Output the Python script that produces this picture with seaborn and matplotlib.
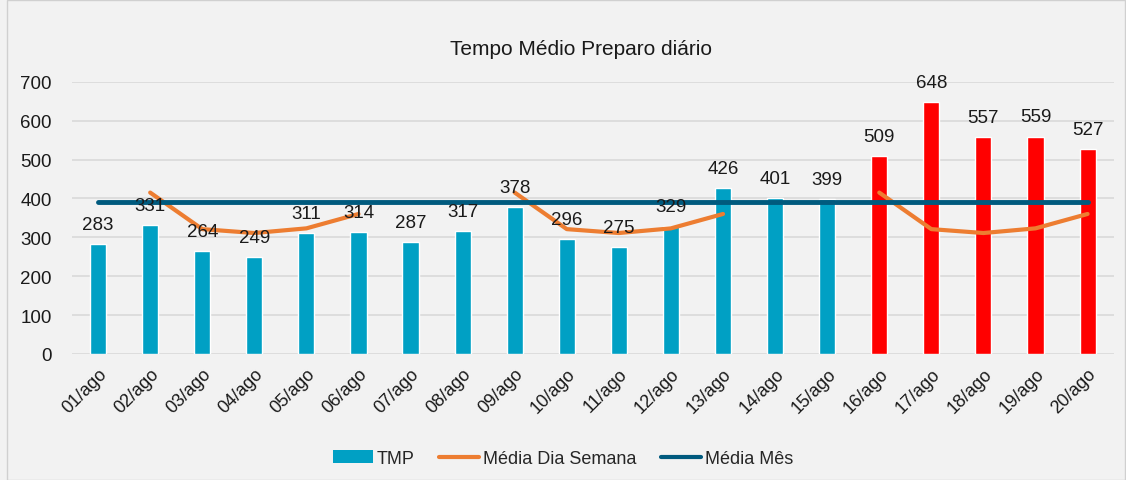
import numpy as np
import pandas as pd
import matplotlib
matplotlib.use("Agg")
import matplotlib.pyplot as plt
import seaborn as sns
from matplotlib.patches import Patch, Rectangle
from matplotlib.lines import Line2D

days = [f"{d:02d}/ago" for d in range(1, 21)]
tmp = [283, 331, 264, 249, 311, 314, 287, 317, 378, 296,
       275, 329, 426, 401, 399, 509, 648, 557, 559, 527]
# weekday average (gaps on weekends)
media_dia_semana = [np.nan, 415, 321, 311, 323, 360, np.nan, np.nan, 415, 321,
                    311, 323, 360, np.nan, np.nan, 415, 321, 311, 323, 360]
media_mes = [392] * 20
highlight = [False] * 15 + [True] * 5

BG = "#F2F2F2"
BLUE = "#00A0C4"
RED = "#FF0000"
ORANGE = "#ED7D31"
NAVY = "#005A7E"
TXT = "#1a1a1a"

sns.set_style("white")
plt.rcParams['font.family'] = ['Liberation Sans', 'DejaVu Sans']

df = pd.DataFrame({"dia": days, "tmp": tmp})
colors = [RED if h else BLUE for h in highlight]

fig = plt.figure(figsize=(11.26, 4.81), dpi=100, facecolor=BG)
ax = fig.add_axes([0.064, 0.262, 0.925, 0.566])
ax.set_facecolor(BG)

sns.barplot(data=df, x="dia", y="tmp", hue="dia", palette=colors,
            legend=False, width=0.31, ax=ax, saturation=1)

x = np.arange(len(days))
ax.plot(x, media_dia_semana, color=ORANGE, lw=3, solid_capstyle="round", zorder=3)
ax.plot(x, media_mes, color=NAVY, lw=3.5, solid_capstyle="round", zorder=4)

for xi, v in zip(x, tmp):
    ax.annotate(str(v), (xi, v), xytext=(0, 8), textcoords="offset points",
                ha="center", va="bottom", fontsize=13.5, color=TXT, zorder=5)

ax.set_ylim(0, 700)
ax.set_xlim(-0.5, len(days) - 0.5)
ax.set_yticks(range(0, 701, 100))
ax.yaxis.grid(True, color="#D9D9D9", lw=1.2)
ax.set_axisbelow(True)
for s in ax.spines.values():
    s.set_visible(False)
ax.tick_params(axis="both", length=0)
ax.tick_params(axis="y", labelsize=13.5, pad=14.5, labelcolor=TXT)
ax.set_xticks(x)
ax.set_xticklabels(days, rotation=45, ha="right", rotation_mode="anchor",
                   fontsize=13, color=TXT)
ax.tick_params(axis="x", pad=8)
ax.set_xlabel("")
ax.set_ylabel("")

fig.text(0.516, 0.897, "Tempo Médio Preparo diário", ha="center", va="center",
         fontsize=15, color=TXT)

handles = [Patch(facecolor=BLUE, edgecolor="none"),
           Line2D([0], [0], color=ORANGE, lw=3, solid_capstyle="round"),
           Line2D([0], [0], color=NAVY, lw=3, solid_capstyle="round")]
labels = ["TMP", "Média Dia Semana", "Média Mês"]
fig.legend(handles, labels, loc="center", bbox_to_anchor=(0.50, 0.045),
           ncol=3, frameon=False, prop={"size": 13},
           handlelength=2.2, handletextpad=0.2, columnspacing=1.4)

fig.add_artist(Rectangle((0.006, 0.0), 0.993, 0.998, transform=fig.transFigure,
                         fill=False, edgecolor="#D0D0D0", lw=1))

fig.savefig("out.png", dpi=100, facecolor=BG)
